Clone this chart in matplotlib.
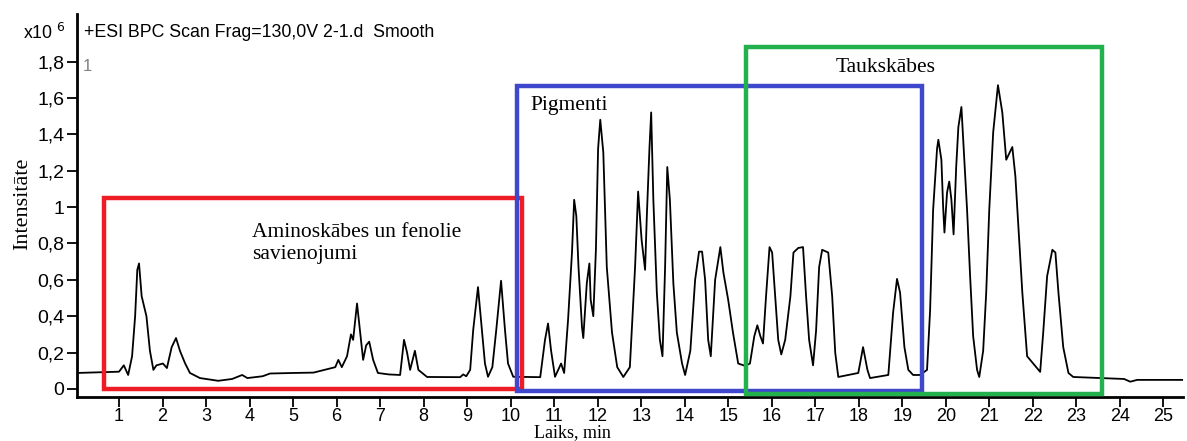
# Chromatogram (BPC) with region boxes

import matplotlib.pyplot as plt
from matplotlib.patches import Rectangle

# retention time (min) and intensity (x10^6)
time = [0.03, 1.0, 1.11, 1.21, 1.3, 1.37, 1.42, 1.46, 1.52, 1.63, 1.71, 1.79,
        1.86, 2.01, 2.1, 2.21, 2.31, 2.4, 2.52, 2.63, 2.86, 3.28, 3.6, 3.83,
        3.95, 4.3, 4.47, 5.0, 5.47, 5.97, 6.04, 6.12, 6.24, 6.33, 6.38, 6.47,
        6.52, 6.61, 6.68, 6.75, 6.84, 6.95, 7.2, 7.46, 7.55, 7.62, 7.69, 7.8,
        7.88, 8.08, 8.84, 8.91, 8.98, 9.07, 9.14, 9.25, 9.34, 9.41, 9.48, 9.58,
        9.67, 9.78, 9.87, 9.94, 10.06, 10.68, 10.79, 10.86, 10.93, 11.02, 11.16,
        11.23, 11.32, 11.41, 11.46, 11.51, 11.56, 11.64, 11.67, 11.75, 11.81,
        11.84, 11.9, 11.96, 12.01, 12.06, 12.13, 12.21, 12.33, 12.45, 12.59,
        12.74, 12.86, 12.93, 13.01, 13.09, 13.13, 13.19, 13.23, 13.28, 13.36,
        13.43, 13.49, 13.55, 13.6, 13.66, 13.74, 13.82, 13.94, 14.01, 14.13,
        14.24, 14.33, 14.4, 14.47, 14.54, 14.6, 14.7, 14.82, 14.89, 15.0,
        15.11, 15.23, 15.39, 15.5, 15.6, 15.67, 15.74, 15.8, 15.87, 15.95,
        16.01, 16.08, 16.15, 16.22, 16.31, 16.43, 16.5, 16.61, 16.72, 16.79,
        16.86, 16.95, 17.02, 17.09, 17.16, 17.3, 17.39, 17.46, 17.53, 17.99,
        18.1, 18.2, 18.26, 18.68, 18.79, 18.88, 18.95, 19.05, 19.14, 19.25,
        19.41, 19.57, 19.64, 19.71, 19.8, 19.83, 19.9, 19.94, 19.97, 20.03,
        20.08, 20.13, 20.18, 20.24, 20.29, 20.36, 20.41, 20.49, 20.56, 20.63,
        20.72, 20.77, 20.86, 20.93, 21.0, 21.09, 21.2, 21.3, 21.39, 21.53,
        21.6, 21.67, 21.76, 21.87, 22.01, 22.17, 22.24, 22.33, 22.45, 22.52,
        22.59, 22.7, 22.82, 22.93, 23.55, 24.1, 24.24, 24.4, 25.5]
intensity = [0.088, 0.095, 0.13, 0.077, 0.18, 0.40, 0.655, 0.69, 0.51, 0.40, 0.21, 0.105,
             0.13, 0.14, 0.115, 0.23, 0.28, 0.21, 0.14, 0.088, 0.06, 0.045, 0.055, 0.077,
             0.06, 0.07, 0.085, 0.088, 0.09, 0.12, 0.16, 0.12, 0.18, 0.30, 0.27, 0.47,
             0.36, 0.16, 0.24, 0.26, 0.16, 0.088, 0.08, 0.077, 0.27, 0.20, 0.105, 0.21,
             0.105, 0.066, 0.065, 0.08, 0.07, 0.105, 0.325, 0.56, 0.325, 0.14, 0.067, 0.12,
             0.325, 0.595, 0.325, 0.14, 0.067, 0.065, 0.27, 0.36, 0.21, 0.067, 0.14,
             0.088, 0.38, 0.75, 1.04, 0.95, 0.67, 0.34, 0.28, 0.58, 0.69,
             0.49, 0.40, 0.765, 1.32, 1.48, 1.30, 0.67, 0.31, 0.12, 0.066,
             0.12, 0.67, 1.085, 0.82, 0.655, 0.95, 1.32, 1.52, 1.04, 0.53,
             0.27, 0.18, 0.67, 1.22, 1.04, 0.58, 0.31, 0.14, 0.077, 0.21,
             0.60, 0.755, 0.755, 0.60, 0.27, 0.18, 0.60, 0.78, 0.64, 0.49,
             0.31, 0.14, 0.127, 0.14, 0.29, 0.35, 0.29, 0.25, 0.51, 0.78,
             0.75, 0.51, 0.27, 0.19, 0.27, 0.51, 0.75, 0.775, 0.78, 0.51,
             0.27, 0.13, 0.32, 0.67, 0.765, 0.75, 0.51, 0.20, 0.066, 0.088,
             0.23, 0.105, 0.06, 0.077, 0.42, 0.605, 0.53, 0.23, 0.105, 0.077,
             0.077, 0.105, 0.43, 0.985, 1.32, 1.37, 1.26, 1.0, 0.86, 1.08,
             1.14, 1.04, 0.85, 1.22, 1.44, 1.55, 1.33, 0.985, 0.62, 0.29,
             0.105, 0.066, 0.21, 0.53, 0.985, 1.41, 1.67, 1.52, 1.26, 1.33,
             1.17, 0.89, 0.53, 0.18, 0.14, 0.094, 0.31, 0.62, 0.765, 0.75,
             0.53, 0.23, 0.088, 0.066, 0.06, 0.055, 0.04, 0.05, 0.05]

# highlighted regions
region_names = ["Aminoskābes un fenolie\nsavienojumi", "Pigmenti", "Taukskābes"]
region_x = [(0.655, 10.26), (10.15, 19.46), (15.41, 23.6)]
region_y = [(0.0, 1.05), (-0.01, 1.667), (-0.03, 1.88)]
region_colors = ["#ee1c25", "#3f48cc", "#22b14c"]
label_pos = [(4.06, 0.91), (10.45, 1.61), (17.46, 1.82)]

yticks = [0, 0.2, 0.4, 0.6, 0.8, 1, 1.2, 1.4, 1.6, 1.8]
ytick_labels = ["0", "0,2", "0,4", "0,6", "0,8", "1", "1,2", "1,4", "1,6", "1,8"]
xticks = list(range(1, 26))

narrow = ['Liberation Sans Narrow', 'Liberation Sans']

fig = plt.figure(figsize=(11.87, 4.41), dpi=100)
ax = fig.add_axes([0.0649, 0.0998, 0.932, 0.868])

ax.plot(time, intensity, color='black', linewidth=1.3, zorder=3)

for (x0, x1), (y0, y1), c in zip(region_x, region_y, region_colors):
    ax.add_patch(Rectangle((x0, y0), x1 - x0, y1 - y0, fill=False,
                           edgecolor=c, linewidth=3.2, zorder=4))

for name, (lx, ly) in zip(region_names, label_pos):
    ax.text(lx, ly, name, family='Liberation Serif', fontsize=15.5,
            va='top', ha='left', linespacing=1.15, zorder=5)

ax.set_xlim(0.035, 25.46)
ax.set_ylim(-0.044, 2.06)
ax.set_xticks(xticks)
ax.set_xticklabels([str(t) for t in xticks], family=narrow, fontsize=13)
ax.set_yticks(yticks)
ax.set_yticklabels(ytick_labels, family=narrow, fontsize=14)
ax.tick_params(direction='out', length=7, width=1.3, pad=2)
ax.tick_params(axis='x', pad=1)

for side in ['top', 'right']:
    ax.spines[side].set_visible(False)
for side in ['left', 'bottom']:
    ax.spines[side].set_linewidth(2)

ax.set_xlabel("Laiks, min", family='Liberation Serif', fontsize=13, va='center')
ax.xaxis.set_label_coords(0.4476, -0.092)
ax.set_ylabel("Intensitāte", family='Liberation Serif', fontsize=16, va='center')
ax.yaxis.set_label_coords(-0.0495, 0.505)

ax.text(0.006, 0.952, "+ESI BPC Scan Frag=130,0V 2-1.d  Smooth", transform=ax.transAxes,
        family='Liberation Sans', fontsize=12.8, va='center', ha='left')
ax.text(-0.01, 0.952, "x10 $^{6}$", transform=ax.transAxes,
        family='Liberation Sans', fontsize=12.8, va='center', ha='right')
ax.text(0.009, 0.864, "1", transform=ax.transAxes, color='gray',
        family='Liberation Sans', fontsize=12, va='center', ha='center')

fig.savefig("out.png", dpi=100)
